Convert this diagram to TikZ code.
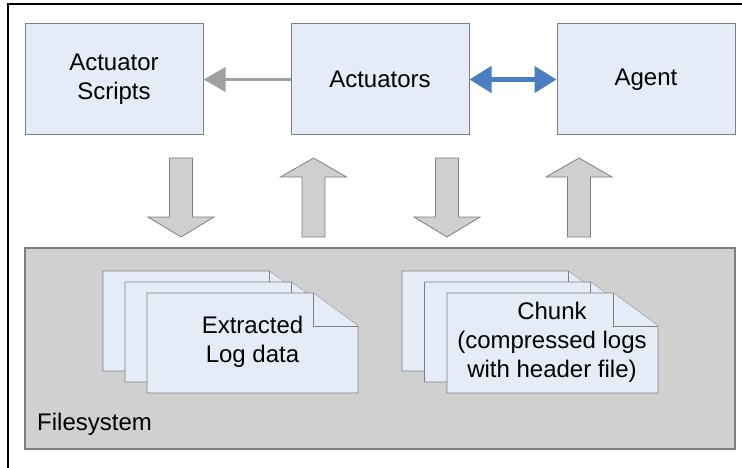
\documentclass[tikz,border=0pt]{standalone}
\usepackage{fontspec}
\setmainfont{Liberation Sans}
\usetikzlibrary{arrows.meta}
\definecolor{boxfill}{HTML}{E6ECF7}
\definecolor{boxline}{HTML}{7F7F7F}
\definecolor{fsfill}{HTML}{D0D0D0}
\definecolor{arrgray}{HTML}{A0A0A0}
\definecolor{arrblue}{HTML}{4A7EC1}
\definecolor{blockfill}{HTML}{CFCFCF}
\newcommand\blockdown[1]{%
  \draw[blockarrow] (#1-11.5,158) -- (#1+11.5,158) -- (#1+11.5,217) -- (#1+33,217) -- (#1,237) -- (#1-33,217) -- (#1-11.5,217) -- cycle;}
\newcommand\blockup[1]{%
  \draw[blockarrow] (#1-11.5,237) -- (#1+11.5,237) -- (#1+11.5,177) -- (#1+33,177) -- (#1,158) -- (#1-33,177) -- (#1-11.5,177) -- cycle;}
\newcommand\docshape[2]{%
  \draw[docstyle] (#1,#2) -- (#1+166,#2) -- (#1+211,#2+33) -- (#1+211,#2+100) -- (#1,#2+100) -- cycle;
  \draw[docstyle] (#1+166,#2) -- (#1+166,#2+33) -- (#1+211,#2+33);}
\begin{document}
\begin{tikzpicture}[x=1pt,y=-1pt,
  font=\fontsize{24}{29}\selectfont,
  box/.style={draw=boxline, fill=boxfill, line width=1pt, minimum width=178pt, minimum height=111pt, align=center, inner sep=0pt},
  fsbox/.style={draw=boxline, fill=fsfill, line width=1.2pt, minimum width=710pt, minimum height=201pt, inner sep=0pt},
  blockarrow/.style={draw=boxline, fill=blockfill, line width=0.8pt, line join=miter},
  docstyle/.style={draw=boxline, fill=boxfill, line width=0.8pt},
  grayarrow/.style={draw=arrgray, line width=3.5pt, -{Triangle[length=22pt,width=24pt]}},
  bluearrow/.style={draw=arrblue, line width=4.5pt, {Triangle[length=22pt,width=26pt]}-{Triangle[length=22pt,width=26pt]}},
  lbl/.style={align=center, inner sep=0pt}]
\useasboundingbox (0,0) rectangle (742,468);
\draw[line width=1.5pt] (8,468) -- (8,4) -- (742,4);
% top boxes
\node[box] (scripts) at (114,79.5) {Actuator\\Scripts};
\node[box] (act) at (380,79.5) {Actuators};
\node[box] (agent) at (646,79.5) {Agent};
\draw[grayarrow] (act.west) -- (scripts.east);
\draw[bluearrow] (act.east) -- (agent.west);
% block arrows
\blockdown{181}
\blockup{313.5}
\blockdown{447}
\blockup{579}
% filesystem
\node[fsbox] (fs) at (380,348.5) {};
\node[anchor=base west, inner sep=0pt] (fslabel) at (37,430) {Filesystem};
% document stacks
\docshape{103}{271}
\docshape{125}{282}
\docshape{147}{293}
\node[lbl] (extracted) at (252.5,342) {Extracted\\Log data};
\docshape{402}{271}
\docshape{424.5}{282}
\docshape{447}{293}
\node[lbl] (chunk) at (552,342) {Chunk\\(compressed logs\\with header file)};
\end{tikzpicture}
\end{document}
